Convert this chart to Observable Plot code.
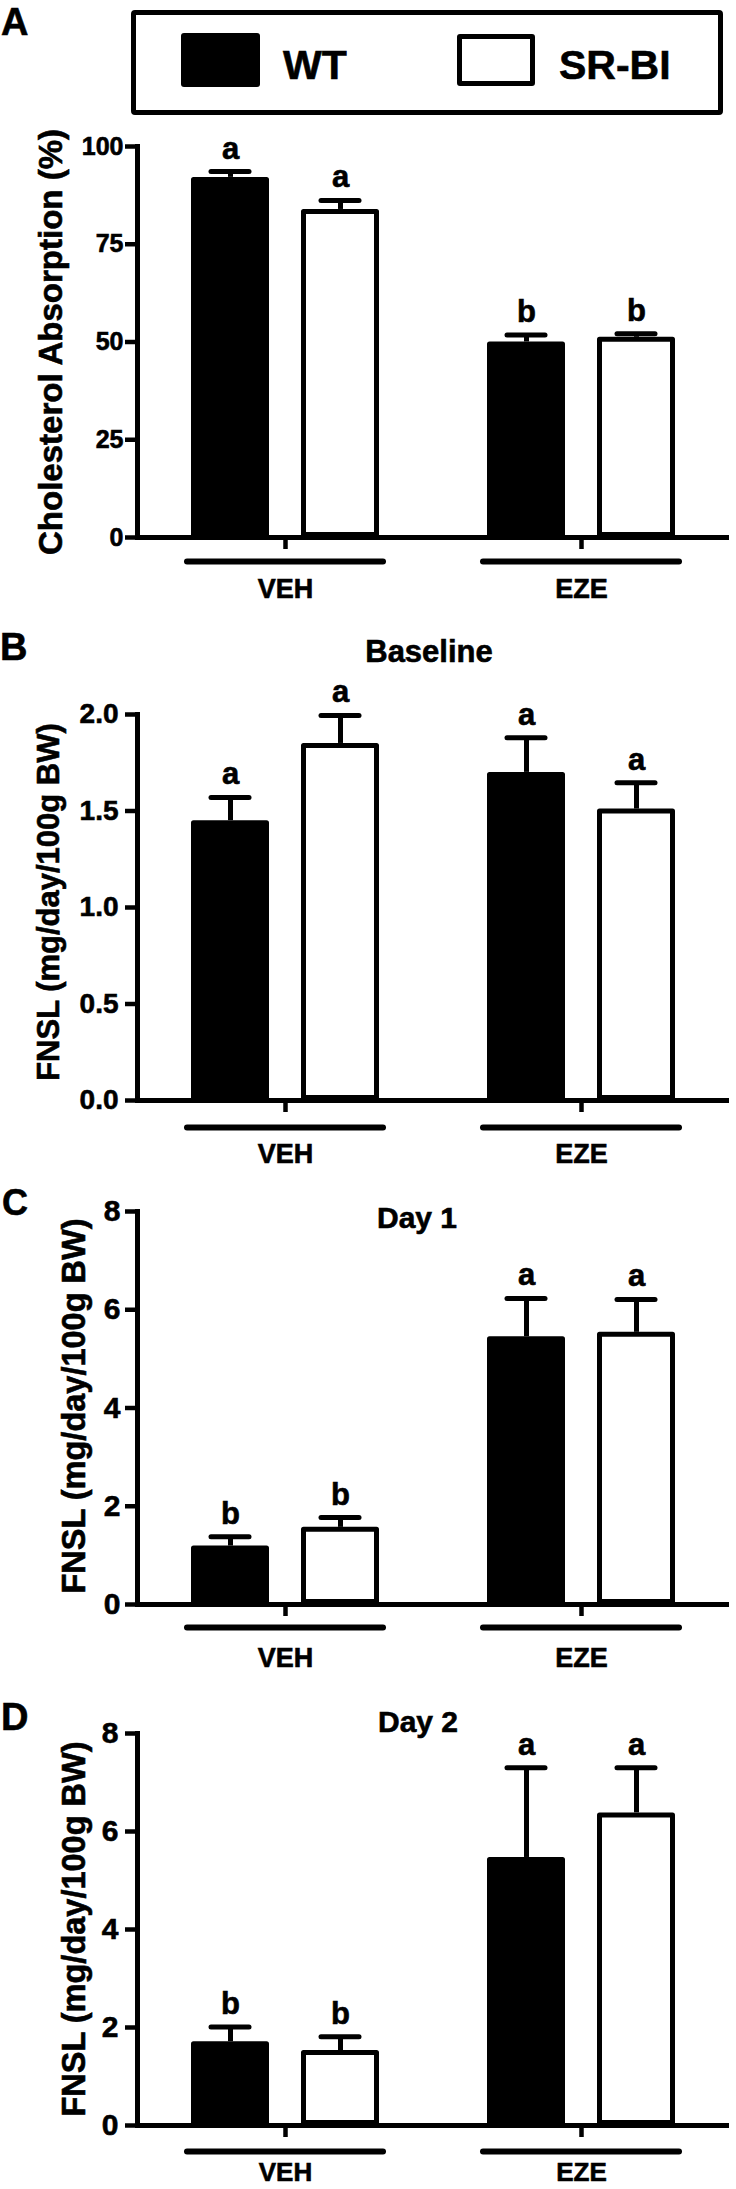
<!DOCTYPE html>
<html><head><meta charset="utf-8">
<script src="https://cdn.jsdelivr.net/npm/d3@7"></script>
<script src="https://cdn.jsdelivr.net/npm/@observablehq/plot@0.6"></script>
<style>
html,body{margin:0;padding:0;background:#fff;}
#root{position:relative;width:736px;height:2189px;overflow:hidden;font-family:"Liberation Sans",Arial,sans-serif;font-weight:bold;color:#000;}
#root > *{position:absolute;}
.t{line-height:1;white-space:nowrap;-webkit-text-stroke:0.6px #000;}
#root svg text{stroke:#000;stroke-width:0.6px;}
</style></head><body><div id="root"></div>
<script>
// ---------- data ----------
const groups = ["VEH", "EZE"];
const genotypes = ["WT", "SR-BI"];

// Panel A: Cholesterol Absorption (%)
const absWT = [92.1, 50.0];
const absWTsem = [1.5, 1.8];
const absSR = [83.9, 51.2];
const absSRsem = [2.3, 0.9];
const absLetters = ["a", "b"];          // per group, same for both genotypes
const absTicks = [0, 25, 50, 75, 100];

// Panel B: Baseline FNSL
const baseWT = [1.45, 1.70];
const baseWTsem = [0.12, 0.18];
const baseSR = [1.85, 1.51];
const baseSRsem = [0.145, 0.136];
const baseLetters = ["a", "a"];
const baseTicks = [0, 0.5, 1.0, 1.5, 2.0];

// Panel C: Day 1 FNSL
const day1WT = [1.19, 5.45];
const day1WTsem = [0.19, 0.78];
const day1SR = [1.57, 5.54];
const day1SRsem = [0.20, 0.67];
const day1Letters = ["b", "a"];
const fnslTicks = [0, 2, 4, 6, 8];

// Panel D: Day 2 FNSL
const day2WT = [1.71, 5.47];
const day2WTsem = [0.30, 1.83];
const day2SR = [1.53, 6.38];
const day2SRsem = [0.28, 0.92];
const day2Letters = ["b", "a"];

const yLabelA = "Cholesterol Absorption (%)";
const yLabelF = "FNSL (mg/day/100g BW)";

// ---------- helpers ----------
const root = document.getElementById("root");
const FONT = "Liberation Sans, Arial, sans-serif";

function rowsOf(wt, wtSem, sr, srSem, letters) {
  const rows = [];
  groups.forEach((g, i) => {
    rows.push({group: g, genotype: "WT", mean: wt[i], sem: wtSem[i], letter: letters[i]});
    rows.push({group: g, genotype: "SR-BI", mean: sr[i], sem: srSem[i], letter: letters[i]});
  });
  return rows;
}

function place(el, left, top) {
  el.style.left = left + "px";
  el.style.top = top + "px";
  root.appendChild(el);
  return el;
}

function text(str, fs, left, capTop, center) {
  const d = document.createElement("div");
  d.className = "t";
  d.textContent = str;
  d.style.fontSize = fs + "px";
  if (center) d.style.transform = "translateX(-50%)";
  return place(d, left, capTop - 0.13 * fs);
}

function vlabel(str, fs, cx, cy) {
  const d = document.createElement("div");
  d.className = "t";
  d.textContent = str;
  d.style.fontSize = fs + "px";
  d.style.transform = "translate(-50%,-50%) rotate(-90deg)";
  return place(d, cx, cy);
}

function panel(rows, o) {
  const up = d => d.mean + d.sem;
  const chart = Plot.plot({
    width: 736,
    height: o.height,
    marginLeft: 137,
    marginRight: 7,
    marginTop: o.marginTop,
    marginBottom: o.marginBottom,
    style: {fontFamily: FONT, color: "black", background: "transparent", overflow: "visible"},
    fx: {domain: groups, padding: 0, label: null},
    x: {domain: genotypes, paddingInner: 0.2909, paddingOuter: 0.4909, axis: null},
    y: {domain: o.domain, axis: null},
    color: {domain: genotypes, range: ["black", "white"]},
    marks: [
      Plot.barY(rows, {fx: "group", x: "genotype", y: "mean", fill: "genotype",
        stroke: "black", strokeWidth: 5, inset: 2.5, strokeLinejoin: "round"}),
      Plot.ruleX(rows, {fx: "group", x: "genotype", y1: "mean", y2: up, strokeWidth: 5}),
      Plot.tickY(rows, {fx: "group", x: "genotype", y: up, strokeWidth: 5,
        strokeLinecap: "round", insetLeft: 20, insetRight: 20}),
      Plot.text(rows, {fx: "group", x: "genotype", y: up, text: "letter",
        lineAnchor: "bottom", dy: -13, fontSize: 31, fontWeight: "bold"}),
      Plot.ruleY([o.domain[0]], {strokeWidth: 5}),
      Plot.ruleY([o.domain[0]], {dy: o.underDy, insetLeft: 50, insetRight: 50,
        strokeWidth: 6, strokeLinecap: "round"}),
      Plot.axisY({ticks: o.ticks, tickFormat: o.format, tickSize: 12, tickPadding: o.tickPad,
        fontSize: o.tickFont, fontWeight: "bold", strokeWidth: 4.5, label: null}),
      Plot.frame({anchor: "left", facetAnchor: "left", strokeWidth: 5}),
      Plot.axisFx({anchor: "bottom", tickSize: 12, tickPadding: o.labelPad, fontSize: o.labelFont || 27,
        fontWeight: "bold", strokeWidth: 4.5, label: null})
    ]
  });
  chart.style.position = "absolute";
  return place(chart, 0, o.top);
}

// ---------- legend ----------
const box = document.createElement("div");
Object.assign(box.style, {width: "592px", height: "105px", border: "5px solid #000",
  borderRadius: "4px", boxSizing: "border-box"});
place(box, 131, 10);
const sw1 = document.createElement("div");
Object.assign(sw1.style, {width: "79px", height: "54px", background: "#000", borderRadius: "3px"});
place(sw1, 181, 33);
const sw2 = document.createElement("div");
Object.assign(sw2.style, {width: "78px", height: "52px", background: "#fff", border: "5px solid #000",
  borderRadius: "3px", boxSizing: "border-box"});
place(sw2, 457, 34);
text(genotypes[0], 41, 283, 50);
text(genotypes[1], 41, 559, 50);

// ---------- panels ----------
panel(rowsOf(absWT, absWTsem, absSR, absSRsem, absLetters),
  {top: 100, height: 520, marginTop: 46, marginBottom: 83, domain: [0, 100], ticks: absTicks,
   format: d3.format("d"), tickPad: 2, tickFont: 25, underDy: 24, labelPad: 29});
panel(rowsOf(baseWT, baseWTsem, baseSR, baseSRsem, baseLetters),
  {top: 660, height: 520, marginTop: 54, marginBottom: 80, domain: [0, 2], ticks: baseTicks,
   format: d3.format(".1f"), tickPad: 7, tickFont: 28, underDy: 27, labelPad: 31});
panel(rowsOf(day1WT, day1WTsem, day1SR, day1SRsem, day1Letters),
  {top: 1180, height: 505, marginTop: 31, marginBottom: 81, domain: [0, 8], ticks: fnslTicks,
   format: d3.format("d"), tickPad: 5, tickFont: 30, underDy: 23, labelPad: 31});
panel(rowsOf(day2WT, day2WTsem, day2SR, day2SRsem, day2Letters),
  {top: 1690, height: 499, marginTop: 43, marginBottom: 64, domain: [0, 8], ticks: fnslTicks,
   format: d3.format("d"), tickPad: 7, tickFont: 30, underDy: 26, labelPad: 25, labelFont: 26});

// ---------- panel letters, titles, y labels ----------
text("A", 38, 1, 8);
text("B", 38, 0, 633);
text("C", 36, 2, 1190);
text("D", 38, 1, 1703);
text("Baseline", 31, 429, 640, true);
text("Day 1", 30, 417, 1207, true);
text("Day 2", 30, 418, 1711, true);
vlabel(yLabelA, 33, 50, 342);
vlabel(yLabelF, 31, 48, 902);
vlabel(yLabelF, 32.5, 74, 1406);
vlabel(yLabelF, 32.5, 74, 1929);
</script></body></html>
